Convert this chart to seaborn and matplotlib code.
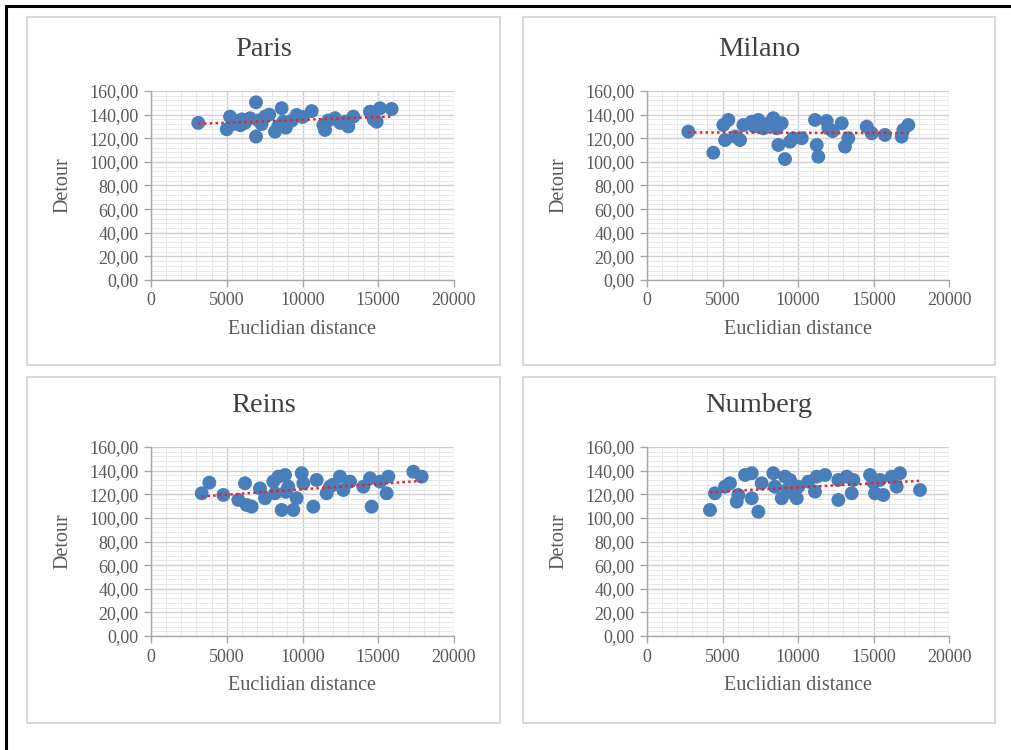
import numpy as np
import pandas as pd
import matplotlib
matplotlib.use("Agg")
import matplotlib.pyplot as plt
from matplotlib.patches import Rectangle
from matplotlib.lines import Line2D
from matplotlib.ticker import MultipleLocator, FixedLocator
import seaborn as sns

# ---------------- data ----------------
paris_x = [3120, 5000, 5215, 5400, 5700, 5900, 6200, 6535, 6930, 6930, 7100, 7525, 7800, 8185, 8400,
           8625, 8735, 9000, 9300, 9615, 10000, 10605, 11375, 11485, 11700, 12145, 12500, 12805, 13025,
           13355, 14455, 14700, 14895, 15115, 15885, 6000, 7300, 8900]
paris_y = [133, 127.6, 138.3, 132, 134.6, 131, 133, 136.9, 150.4, 121.4, 135, 138.3, 140, 125.6, 130,
           145.4, 134, 133, 135, 139.7, 138, 143, 131.2, 127, 135, 137, 133, 134, 130,
           138.3, 142.5, 136, 134, 145.4, 144.8, 136, 132, 129]

milano_x = [2735, 4390, 5055, 5385, 5165, 5830, 6160, 6380, 6935, 7375, 7705, 8365, 8590, 8700, 8920,
            9140, 9470, 9690, 10245, 11125, 11240, 11345, 11900, 12010, 12895, 13110, 13330, 14550,
            14880, 15760, 16865, 16975, 17305, 7100, 8100, 12300]
milano_y = [125.6, 107.8, 131.2, 135.5, 118.5, 121.4, 118.5, 131.2, 134, 135.5, 128.4, 137, 128.4, 114.3,
            132.7, 102.4, 117.1, 120, 120, 135.5, 114.3, 104.4, 134.6, 128.4, 132.7, 112.9, 120, 129.8,
            124.2, 122.8, 121.4, 127, 131.2, 130, 133, 126]

reins_x = [3345, 3850, 4775, 5765, 6205, 6315, 6645, 7195, 7525, 8075, 8185, 8405, 8625, 8845, 9065,
           9395, 9615, 9945, 10055, 10715, 10935, 11595, 11815, 12475, 12695, 13135, 14015, 14455,
           14565, 15115, 15555, 15665, 17315, 17865, 8900, 12000]
reins_y = [120.8, 129.8, 119.4, 115.2, 129.3, 110.9, 109.5, 125, 116.6, 130.7, 120.8, 134.9, 106.7, 136.3,
           126.4, 106.7, 116.6, 137.8, 129.3, 109.5, 132.1, 120.8, 126.4, 134.9, 123.6, 130.7, 126.4,
           133.5, 109.5, 130.7, 120.8, 134.9, 139.1, 134.9, 122, 128]

numberg_x = [4170, 4500, 5165, 5495, 5940, 6050, 6490, 6935, 6935, 7375, 7595, 8365, 8475, 8920, 9140,
             9470, 9690, 9915, 10020, 10680, 11125, 11240, 11790, 12670, 12670, 13225, 13555, 13665,
             14770, 15100, 15430, 15650, 16205, 16535, 16755, 18080, 9300, 15000]
numberg_y = [106.7, 120.8, 126.4, 129.3, 113.7, 119.4, 136.3, 137.8, 116.6, 105.2, 129.3, 137.8, 126.4,
             116.6, 134.9, 132.1, 120.8, 116.6, 126.4, 130.7, 122.2, 134.9, 136.3, 115.2, 132.1, 134.9,
             120.8, 132.1, 136.3, 120.8, 132.1, 119.4, 134.9, 126.4, 137.8, 123.6, 124, 130]

cities = ["Paris", "Milano", "Reins", "Numberg"]
xs = [paris_x, milano_x, reins_x, numberg_x]
ys = [paris_y, milano_y, reins_y, numberg_y]

x_ticks = [0, 5000, 10000, 15000, 20000]
y_ticks = [0, 20, 40, 60, 80, 100, 120, 140, 160]
y_tick_labels = ["0,00", "20,00", "40,00", "60,00", "80,00", "100,00", "120,00", "140,00", "160,00"]
x_label = "Euclidian distance"
y_label = "Detour"

# ---------------- style ----------------
sns.set_theme(style="white")
plt.rcParams["font.family"] = ["Liberation Serif", "DejaVu Serif"]

W, H = 1011, 750
fig = plt.figure(figsize=(W / 100, H / 100), dpi=100)
fig.patch.set_facecolor("white")

def fx(px):
    return px / W

def fy(py):
    return 1 - py / H

# panel boxes (px): left, top, right, bottom
boxes = [(27, 17, 500, 365), (523, 17, 995, 365), (27, 377, 500, 723), (523, 377, 995, 723)]
# axes (px): left, top, right, bottom
axes_px = [(151, 91, 454, 280), (647, 91, 949, 280), (151, 447, 454, 636), (647, 447, 949, 636)]

for b in boxes:
    fig.patches.append(Rectangle((fx(b[0]), fy(b[3])), fx(b[2]) - fx(b[0]), fy(b[1]) - fy(b[3]),
                                 transform=fig.transFigure, facecolor="none", edgecolor="#D4D4D4",
                                 linewidth=1.3, zorder=-5))

# black page frame (left and top)
fig.lines.append(Line2D([fx(5.5), fx(5.5)], [0, fy(5.5)], transform=fig.transFigure, color="black",
                        lw=2.2, zorder=-5))
fig.lines.append(Line2D([fx(5.5), 1], [fy(5.5), fy(5.5)], transform=fig.transFigure, color="black",
                        lw=2.2, zorder=-5))

text_col = "#595959"
for i, city in enumerate(cities):
    l, t, r, btm = axes_px[i]
    ax = fig.add_axes([fx(l), fy(btm), fx(r) - fx(l), fy(t) - fy(btm)])
    ax.set_zorder(2)
    ax.set_facecolor("white")
    df = pd.DataFrame({"x": xs[i], "y": ys[i]})
    sns.regplot(data=df, x="x", y="y", ax=ax, scatter=False, ci=None, truncate=True,
                line_kws=dict(color="#E0262B", lw=1.8, ls=(0, (1, 1.3)), zorder=4))
    sns.scatterplot(data=df, x="x", y="y", ax=ax, s=100, color="#4A7EBB", edgecolor="none",
                    linewidth=0, zorder=3)
    ax.set_xlim(0, 20000)
    ax.set_ylim(0, 160)
    ax.xaxis.set_major_locator(FixedLocator(x_ticks))
    ax.yaxis.set_major_locator(FixedLocator(y_ticks))
    ax.set_yticklabels(y_tick_labels)
    ax.xaxis.set_minor_locator(MultipleLocator(1000))
    ax.yaxis.set_minor_locator(MultipleLocator(4))
    ax.grid(which="major", color="#CFCFCF", lw=1.0)
    ax.grid(which="minor", color="#E8E8E8", lw=0.7)
    ax.set_axisbelow(True)
    for s in ["top", "right"]:
        ax.spines[s].set_visible(False)
    for s in ["left", "bottom"]:
        ax.spines[s].set_color("#A6A6A6")
        ax.spines[s].set_linewidth(1.0)
    ax.tick_params(which="major", direction="out", length=5, width=1.0, color="#A6A6A6",
                   labelsize=13, labelcolor=text_col, pad=4, left=True, bottom=True)
    ax.tick_params(which="minor", length=0)
    ax.set_xlabel("")
    ax.set_ylabel("")
    # labels
    b = boxes[i]
    fig.text(fx((b[0] + b[2]) / 2), fy(t - 41), city, ha="center", va="center",
             fontsize=20.5, color="#404040")
    fig.text(fx((l + r) / 2), fy(btm + 50), x_label, ha="center", va="center",
             fontsize=14.5, color=text_col)
    fig.text(fx(l - 88), fy((t + btm) / 2), y_label, ha="center", va="center",
             rotation=90, fontsize=14.5, color=text_col)

fig.savefig("out.png", dpi=100, facecolor="white")
